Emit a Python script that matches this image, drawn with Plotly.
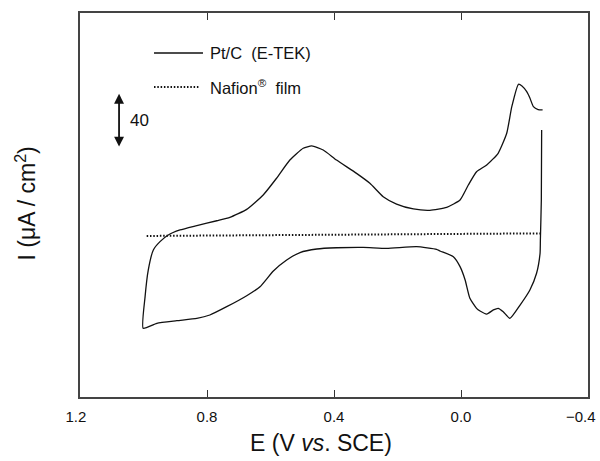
import plotly.graph_objects as go

# Cyclic voltammogram of Pt/C (E-TEK), potential in V vs. SCE, current in uA/cm2
E_ptc = [-0.254, -0.253, -0.250, -0.249, -0.238, -0.217, -0.186, -0.154, -0.133, -0.117,
         -0.102, -0.081, -0.060, -0.049, -0.028, -0.013, 0.003, 0.024, 0.066, 0.077,
         0.140, 0.234, 0.308, 0.392, 0.454, 0.507, 0.549, 0.591, 0.633, 0.675,
         0.738, 0.791, 0.832, 0.895, 0.958, 1.001,
         0.995, 0.985, 0.969, 0.948, 0.922, 0.885, 0.832, 0.769, 0.728, 0.675,
         0.623, 0.581, 0.539, 0.497, 0.470, 0.434, 0.392, 0.329, 0.287, 0.245,
         0.203, 0.150, 0.098, 0.045, 0.003, -0.023, -0.049, -0.081, -0.117, -0.144,
         -0.160, -0.181, -0.192, -0.207, -0.217, -0.228, -0.243, -0.257]
I_ptc = [77.3, 25.8, -3.7, -13.5, -28.2, -40.5, -51.6, -61.4, -56.5, -54.0,
         -55.2, -58.2, -56.0, -54.0, -46.6, -33.1, -23.3, -16.0, -11.8, -10.5,
         -8.6, -9.8, -9.1, -9.4, -10.3, -12.9, -18.4, -26.5, -38.1, -44.7,
         -52.8, -58.9, -61.4, -63.1, -65.0, -68.7,
         -45.4, -25.8, -11.0, -4.9, 0.0, 3.7, 6.9, 10.5, 13.0, 18.9,
         29.5, 41.8, 55.2, 63.9, 65.6, 62.6, 55.2, 45.4, 38.1, 28.2,
         22.8, 19.2, 18.2, 20.4, 25.8, 36.8, 46.6, 51.6, 60.2, 74.9,
         94.5, 111.0, 109.8, 105.6, 100.9, 94.5, 92.4, 92.1]

# Bare Nafion film background
E_naf = [0.99, 0.60, 0.20, -0.25]
I_naf = [-0.7, -0.2, 0.4, 1.2]

# Current scale bar (uA/cm2)
scale_bottom = 64.0
scale_size = 40

x_ticks = [1.2, 0.8, 0.4, 0.0, -0.4]
x_ticktext = ["1.2\u00a0\u00a0", "0.8", "0.4", "0.0", ""]
x_edge_label = "\u22120.4"   # right-edge label kept inside the page

FONT = "Liberation Sans, Arial, sans-serif"

fig = go.Figure()
fig.add_trace(go.Scatter(
    x=E_ptc, y=I_ptc, mode="lines",
    line=dict(color="#111111", width=1.3, shape="spline", smoothing=0.5),
    showlegend=False, hoverinfo="skip"))
fig.add_trace(go.Scatter(
    x=E_naf, y=I_naf, mode="lines",
    line=dict(color="#111111", width=2, dash="1.5px,1.8px"),
    showlegend=False, hoverinfo="skip"))

fig.update_layout(
    template="none",
    width=600, height=461,
    margin=dict(l=80, r=12, t=13, b=64),
    paper_bgcolor="white", plot_bgcolor="white",
    font=dict(family=FONT, color="#111111"),
    xaxis=dict(
        range=[1.2, -0.4], tickvals=x_ticks, ticktext=x_ticktext,
        ticks="inside", ticklen=7, tickwidth=1.3, tickcolor="#333333",
        ticklabeloverflow="allow", ticklabelstandoff=5, automargin=False,
        showline=True, linecolor="#444444", linewidth=1.6, mirror="ticks",
        showgrid=False, zeroline=False,
        tickfont=dict(size=15, family=FONT, color="#111111")),
    yaxis=dict(
        range=[-119.3, 163.5], showticklabels=False, ticks="", automargin=False,
        showline=True, linecolor="#444444", linewidth=1.6, mirror=True,
        showgrid=False, zeroline=False),
)

fig.add_annotation(xref="paper", yref="paper", x=1.0197, y=-0.0495,
                   xanchor="right", yanchor="middle", showarrow=False,
                   text=x_edge_label, font=dict(size=15, family=FONT))

# legend drawn as samples + labels
fig.add_shape(type="line", xref="paper", yref="paper",
              x0=0.1457, x1=0.2421, y0=0.8958, y1=0.8958,
              line=dict(color="#111111", width=1.3))
fig.add_shape(type="line", xref="paper", yref="paper",
              x0=0.1457, x1=0.2362, y0=0.8073, y1=0.8073,
              line=dict(color="#111111", width=2, dash="1.5px,1.8px"))
fig.add_annotation(xref="paper", yref="paper", x=0.2520, y=0.8958,
                   xanchor="left", yanchor="middle", showarrow=False,
                   text="Pt/C\u00a0 (E-TEK)", font=dict(size=16.5, family=FONT))
fig.add_annotation(xref="paper", yref="paper", x=0.2520, y=0.8073,
                   xanchor="left", yanchor="middle", showarrow=False,
                   text="Nafion<sup>\u00ae</sup>\u00a0 film", font=dict(size=16.5, family=FONT))

# scale bar with double arrow
fig.add_annotation(x=1.077, y=scale_bottom + scale_size, ax=1.077, ay=scale_bottom,
                   xref="x", yref="y", axref="x", ayref="y", text="",
                   showarrow=True, arrowside="end+start", arrowhead=2, startarrowhead=2,
                   arrowsize=1.1, startarrowsize=1.1, arrowwidth=1.8, arrowcolor="#111111")
fig.add_annotation(x=1.048, y=scale_bottom + scale_size / 2, xref="x", yref="y",
                   xanchor="left", yanchor="middle", showarrow=False,
                   text=str(scale_size), font=dict(size=17, family=FONT))

# axis titles
fig.add_annotation(xref="paper", yref="paper", x=0.474, y=-0.1198,
                   xanchor="center", yanchor="middle", showarrow=False,
                   text="E (V <i>vs</i>. SCE)", font=dict(size=23, family=FONT))
fig.add_annotation(xref="paper", yref="paper", x=-0.1063, y=0.504,
                   xanchor="center", yanchor="middle", showarrow=False, textangle=-90,
                   text="I (\u03bcA / cm<sup>2</sup>)", font=dict(size=23, family=FONT))

fig.write_html("out.html")
